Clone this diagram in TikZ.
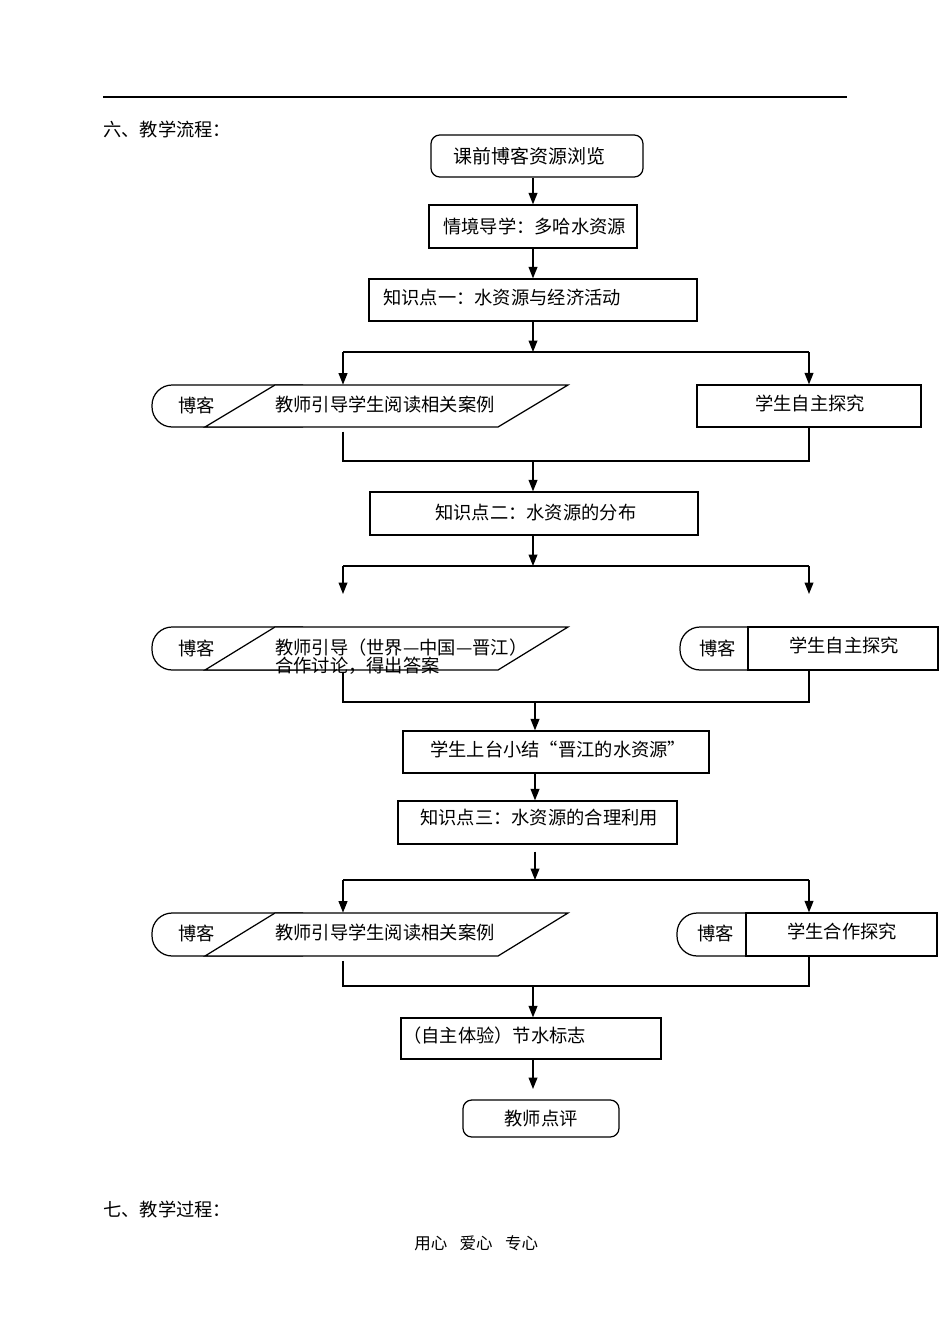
\documentclass[tikz,border=0pt]{standalone}
\usepackage{fontspec}
\setmainfont{Liberation Serif}
\newfontfamily\cjk{Noto Sans CJK SC}
\usetikzlibrary{arrows.meta,fit}
\begin{document}
\begin{tikzpicture}[x=0.02cm,y=-0.02cm,
  every node/.style={font=\cjk\fontsize{10.4pt}{13pt}\selectfont, inner sep=0pt, text=black},
  frame/.style={draw, line width=0.7pt, inner sep=0pt},
  ghost/.style={inner sep=0pt},
  ln/.style={line width=0.7pt},
  arr/.style={line width=0.7pt, -{Triangle[length=6.5pt,width=5pt]}},
  lbl/.style={anchor=west},
  blogcap/.style={line width=0.7pt, rounded corners=11.5pt},
]
\useasboundingbox (0,0) rectangle (950,1342);
\fill[white] (0,0) rectangle (950,1342);

% header
\draw[line width=1.1pt] (103,97) -- (847,97);
\node[lbl] (h6) at (103,129) {六、教学流程：};

% top boxes
\node[frame, rounded corners=5pt, fit={(431,135)(643,177)}] (b1) {};
\node[lbl, font=\cjk\fontsize{10.8pt}{13pt}\selectfont] (t1) at (453,156) {课前博客资源浏览};
\node[frame, fit={(429,205)(637,248)}] (b2) {};
\node[lbl] (t2) at (443,226) {情境导学：多哈水资源};
\node[frame, fit={(369,279)(697,321)}] (b3) {};
\node[lbl] (t3) at (383,298) {知识点一：水资源与经济活动};

\draw[arr] (b1.south -| b2.north) -- (b2.north);
\draw[arr] (b2.south) -- (b3.north);

% split 1
\coordinate (j1) at (533,352);
\coordinate (jL1) at (343,352);
\coordinate (jR1) at (809,352);
\draw[arr] (b3.south -| j1) -- (j1);
\draw[ln] (jL1) -- (jR1);

% row 1
\draw[blogcap] (303,385) -- (152,385) -- (152,427) -- (303,427);
\draw[ln, fill=white] (275,385) -- (568,385) -- (498,427) -- (205,427) -- cycle;
\node[ghost, fit={(152,385)(568,427)}] (L1) {};
\node[lbl] (L1a) at (178,405) {博客};
\node[lbl] (L1b) at (275,405) {教师引导学生阅读相关案例};
\node[frame, fit={(697,385)(921,427)}] (R1) {};
\node[lbl] (R1a) at (755,403) {学生自主探究};
\draw[arr] (jL1) -- (jL1 |- L1.north);
\draw[arr] (jR1) -- (jR1 |- R1.north);

% merge 1
\coordinate (mL1) at (343,461);
\coordinate (mR1) at (809,461);
\coordinate (m1) at (533,461);
\draw[ln] ([yshift=-2.5pt]L1.south -| mL1) -- (mL1) -- (mR1) -- (R1.south -| mR1);
\node[frame, fit={(370,492)(698,535)}] (b4) {};
\node[lbl] (t4) at (435,513) {知识点二：水资源的分布};
\draw[arr] (m1) -- (m1 |- b4.north);

% split 2
\coordinate (j2) at (533,566);
\coordinate (jL2) at (343,566);
\coordinate (jR2) at (809,566);
\coordinate (aL2) at (343,594);
\coordinate (aR2) at (809,594);
\draw[arr] (b4.south -| j2) -- (j2);
\draw[ln] (jL2) -- (jR2);
\draw[arr] (jL2) -- (aL2);
\draw[arr] (jR2) -- (aR2);

% row 2
\draw[blogcap] (303,627) -- (152,627) -- (152,670) -- (303,670);
\draw[ln, fill=white] (275,627) -- (568,627) -- (498,670) -- (205,670) -- cycle;
\node[ghost, fit={(152,627)(568,670)}] (L2) {};
\node[lbl] (L2a) at (178,648) {博客};
\node[lbl, align=left, font=\cjk\fontsize{10.4pt}{10.2pt}\selectfont] (L2b) at (275,657) {教师引导（世界—中国—晋江）\\合作讨论，得出答案};
\draw[blogcap] (748,627) -- (680,627) -- (680,670) -- (748,670);
\node[frame, fit={(748,627)(938,670)}] (R2) {};
\node[lbl] (R2a) at (699,648) {博客};
\node[lbl] (R2b) at (789,645) {学生自主探究};

% merge 2
\coordinate (mL2) at (343,702);
\coordinate (mR2) at (809,702);
\coordinate (m2) at (535,702);
\draw[ln] ([yshift=-1pt]L2.south -| mL2) -- (mL2) -- (mR2) -- (R2.south -| mR2);
\node[frame, fit={(403,731)(709,773)}] (b5) {};
\node[lbl] (t5) at (430,749) {学生上台小结“晋江的水资源”};
\draw[arr] (m2) -- (m2 |- b5.north);
\node[frame, fit={(398,801)(677,844)}] (b6) {};
\node[lbl] (t6) at (420,818) {知识点三：水资源的合理利用};
\draw[arr] (b5.south -| m2) -- (b6.north -| m2);

% split 3
\coordinate (j3) at (535,880);
\coordinate (jL3) at (343,880);
\coordinate (jR3) at (809,880);
\draw[arr] ([yshift=-4pt]b6.south -| j3) -- (j3);
\draw[ln] (jL3) -- (jR3);

% row 3
\draw[blogcap] (303,913) -- (152,913) -- (152,956) -- (303,956);
\draw[ln, fill=white] (275,913) -- (568,913) -- (498,956) -- (205,956) -- cycle;
\node[ghost, fit={(152,913)(568,956)}] (L3) {};
\node[lbl] (L3a) at (178,933) {博客};
\node[lbl] (L3b) at (275,933) {教师引导学生阅读相关案例};
\draw[blogcap] (746,913) -- (677,913) -- (677,956) -- (746,956);
\node[frame, fit={(746,913)(937,956)}] (R3) {};
\node[lbl] (R3a) at (697,933) {博客};
\node[lbl] (R3b) at (787,931) {学生合作探究};
\draw[arr] (jL3) -- (jL3 |- L3.north);
\draw[arr] (jR3) -- (jR3 |- R3.north);

% merge 3
\coordinate (mL3) at (343,986);
\coordinate (mR3) at (809,986);
\coordinate (m3) at (533,986);
\draw[ln] ([yshift=-2.5pt]L3.south -| mL3) -- (mL3) -- (mR3) -- (R3.south -| mR3);
\node[frame, fit={(401,1018)(661,1059)}] (b7) {};
\node[lbl] (t7) at (403,1036) {（自主体验）节水标志};
\draw[arr] (m3) -- (m3 |- b7.north);

\coordinate (a8) at (533,1089);
\draw[arr] (b7.south -| a8) -- (a8);
\node[frame, rounded corners=5pt, fit={(463,1100)(619,1137)}] (b8) {};
\node (t8) at (541,1119) {教师点评};

% footer
\node[lbl] (h7) at (103,1209) {七、教学过程：};
\node[lbl, font=\cjk\fontsize{9.4pt}{11pt}\selectfont] (ft) at (414,1243) {用心\hspace{7pt}爱心\hspace{7pt}专心};
\end{tikzpicture}
\end{document}
